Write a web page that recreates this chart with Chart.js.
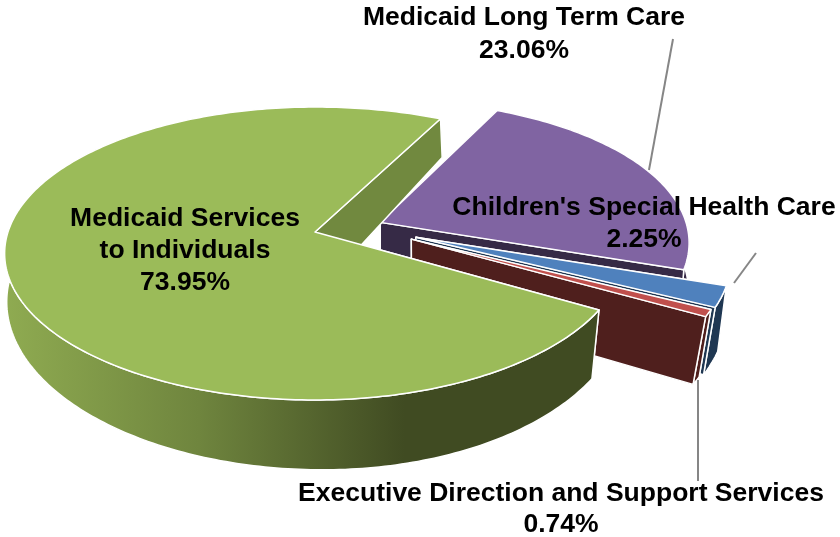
<!DOCTYPE html>
<html>
<head>
<meta charset="utf-8">
<title>Budget by program</title>
<script src="https://cdn.jsdelivr.net/npm/chart.js@4/dist/chart.umd.min.js"></script>
<style>
    html, body { margin: 0; padding: 0; background: #ffffff; }
    canvas { display: block; }
</style>
</head>
<body>
<canvas id="graficoPizza" width="840" height="537"></canvas>
<script>
const categorias = ['Medicaid Services to Individuals', 'Medicaid Long Term Care', "Children's Special Health Care", 'Executive Direction and Support Services'];
const valores = [73.95, 23.06, 2.25, 0.74];

const coresTopo = ['#9BBB59', '#8064A2', '#4F81BD', '#C0504D'];
const coresCorte = ['#71893F', '#362A46', '#1F3752', '#4F1F1D'];
const afastamento = [0.155, 0.07, 0.195, 0.187];
const ordemPintura = [1, 2, 3, 0];

// top and bottom faces of the disc each get their own perspective plane
const topo = { cx: 315, cy: 232, f: 307, q: 143.3, p: 0.1468, s: 0, curva: 3.5 };
const base = { cx: 315, cy: 295, f: 308, q: 163, p: 0.0677, s: 8, curva: 5.5 };

// where each label sits, one entry per text line group
const rotulos = [
    { x: 185, y: 226, passo: 32, linhas: ['Medicaid Services', 'to Individuals'] },
    { x: 524, y: 25, passo: 33, linhas: ['Medicaid Long Term Care'] },
    { x: 644, y: 215, passo: 32, linhas: ["Children's Special Health Care"] },
    { x: 561, y: 501, passo: 31, linhas: ['Executive Direction and Support Services'] }
];
const guias = [
    [673, 39, 649, 170],
    [756, 253, 734, 283],
    [698, 380, 698, 481]
];

function projeta(plano, u, v) {
    const w = 1 + plano.p * v;
    // the exploded slices on the right rise a little as they move out
    const subida = u > 0 ? plano.curva * u * u : 0;
    return [plano.cx + plano.f * u / w - plano.s * v, plano.cy - plano.q * v / w - subida];
}

function poligono(ctx, pontos, cor) {
    ctx.beginPath();
    pontos.forEach((pt, i) => i ? ctx.lineTo(pt[0], pt[1]) : ctx.moveTo(pt[0], pt[1]));
    ctx.closePath();
    ctx.fillStyle = cor;
    ctx.fill();
    ctx.stroke();
}

function desenhaFatia(ctx, arcos, i) {
    // angles come from the pie controller, measured from 3 o'clock
    const ini = arcos[i].startAngle + Math.PI / 2;
    const fim = arcos[i].endAngle + Math.PI / 2;
    const meio = (ini + fim) / 2;

    const verde = arcos[0];
    const meioVerde = (verde.startAngle + verde.endAngle) / 2 + Math.PI / 2;
    const u0 = -afastamento[0] * Math.sin(meioVerde) + afastamento[i] * Math.sin(meio);
    const v0 = -afastamento[0] * Math.cos(meioVerde) + afastamento[i] * Math.cos(meio);

    const borda = [];
    const passos = Math.max(4, Math.ceil((fim - ini) * 180 / Math.PI));
    for (let k = 0; k <= passos; k++) {
        const a = ini + (fim - ini) * k / passos;
        borda.push([u0 + Math.sin(a), v0 + Math.cos(a)]);
    }
    const noTopo = borda.map(b => projeta(topo, b[0], b[1]));
    const naBase = borda.map(b => projeta(base, b[0], b[1]));
    const centroTopo = projeta(topo, u0, v0);
    const centroBase = projeta(base, u0, v0);

    ctx.strokeStyle = '#ffffff';
    ctx.lineWidth = 1.5;
    ctx.lineJoin = 'round';

    // hidden cut, rim wall, visible cut, then the top face over them
    poligono(ctx, [centroTopo, noTopo[0], naBase[0], centroBase], coresCorte[i]);

    let corParede = coresCorte[i];
    if (i === 0) {
        corParede = ctx.createLinearGradient(5, 0, 592, 0);
        corParede.addColorStop(0, '#8FAB51');
        corParede.addColorStop(0.33, '#6F853E');
        corParede.addColorStop(0.68, '#404B22');
        corParede.addColorStop(1, '#404B22');
    }
    poligono(ctx, noTopo.concat(naBase.slice().reverse()), corParede);
    poligono(ctx, [centroTopo, noTopo[passos], naBase[passos], centroBase], coresCorte[i]);
    poligono(ctx, [centroTopo].concat(noTopo), coresTopo[i]);
}

const pizza3d = {
    id: 'pizza3d',
    beforeDatasetsDraw(chart) {
        const ctx = chart.ctx;
        const arcos = chart.getDatasetMeta(0).data;
        ctx.save();
        ordemPintura.forEach(i => desenhaFatia(ctx, arcos, i));
        ctx.restore();
        return false;
    },
    afterDraw(chart) {
        const ctx = chart.ctx;
        ctx.save();
        ctx.strokeStyle = '#868686';
        ctx.lineWidth = 2;
        guias.forEach(g => {
            ctx.beginPath();
            ctx.moveTo(g[0], g[1]);
            ctx.lineTo(g[2], g[3]);
            ctx.stroke();
        });
        ctx.fillStyle = '#000000';
        ctx.font = 'bold 26.5px "Liberation Sans"';
        ctx.textAlign = 'center';
        ctx.textBaseline = 'alphabetic';
        rotulos.forEach((r, i) => {
            const linhas = r.linhas.concat(valores[i].toFixed(2) + '%');
            linhas.forEach((t, k) => ctx.fillText(t, r.x, r.y + k * r.passo));
        });
        ctx.restore();
    }
};

new Chart(document.getElementById('graficoPizza').getContext('2d'), {
    type: 'pie',
    data: {
        labels: categorias,
        datasets: [{ data: valores, backgroundColor: coresTopo }]
    },
    options: {
        responsive: false,
        animation: false,
        rotation: 121.3,
        plugins: { legend: { display: false }, tooltip: { enabled: false } }
    },
    plugins: [pizza3d]
});
</script>
</body>
</html>
